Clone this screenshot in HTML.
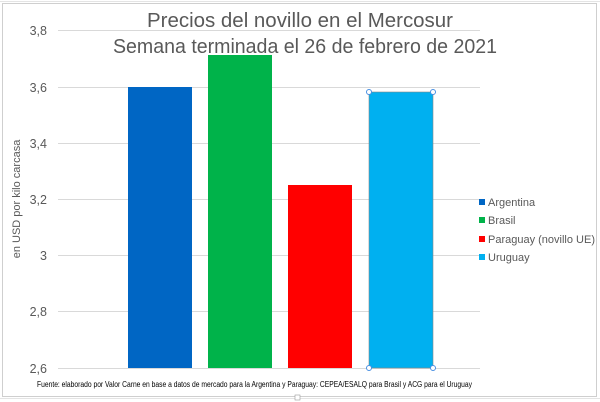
<!DOCTYPE html><html><head><style>body{margin:0;background:#fff}svg{display:block;font-family:"Liberation Sans",Arial,sans-serif}</style></head><body>
<svg width="600" height="402" viewBox="0 0 600 402">
<rect width="600" height="402" fill="#fff"/>
<g stroke="#e4e4e4" stroke-width="1">
<line x1="0" y1="1.5" x2="600" y2="1.5"/>
<line x1="0" y1="398.5" x2="600" y2="398.5"/>
</g>
<rect x="2.5" y="3.5" width="594" height="393" fill="#fff" stroke="#cfcfcf"/>
<g stroke="#d9d9d9" stroke-width="1">
<line x1="58" y1="30.5" x2="480" y2="30.5"/><line x1="58" y1="87.5" x2="480" y2="87.5"/>
<line x1="58" y1="143.5" x2="480" y2="143.5"/><line x1="58" y1="199.5" x2="480" y2="199.5"/>
<line x1="58" y1="255.5" x2="480" y2="255.5"/><line x1="58" y1="311.5" x2="480" y2="311.5"/>
<line x1="58" y1="368.5" x2="480" y2="368.5"/>
</g>
<g font-size="12.5" fill="#595959" text-anchor="end">
<text x="47" y="35">3,8</text><text x="47" y="92">3,6</text><text x="47" y="148">3,4</text>
<text x="47" y="204">3,2</text><text x="47" y="260">3</text><text x="47" y="316">2,8</text><text x="47" y="373">2,6</text>
</g>
<text transform="translate(20,199) rotate(-90)" font-size="11" fill="#595959" text-anchor="middle">en USD por kilo carcasa</text>
<rect x="128" y="87" width="64" height="281" fill="#0066c4"/>
<rect x="208" y="55" width="64" height="313" fill="#00b34a"/>
<rect x="288" y="185" width="64" height="183" fill="#ff0000"/>
<rect x="369" y="92" width="64" height="276" fill="#00b0f0" stroke="#888" stroke-width="0.6"/>
<g fill="#fff" stroke="#4a90e2" stroke-width="1"><circle cx="369" cy="92" r="2.5"/><circle cx="433" cy="92" r="2.5"/><circle cx="369" cy="368" r="2.5"/><circle cx="433" cy="368" r="2.5"/></g>
<g font-size="20" fill="#595959" text-anchor="middle">
<text x="300" y="27" textLength="306" lengthAdjust="spacingAndGlyphs">Precios del novillo en el Mercosur</text>
<text x="305" y="53" textLength="384" lengthAdjust="spacingAndGlyphs">Semana terminada el 26 de febrero de 2021</text>
</g>
<g font-size="11" fill="#595959">
<rect x="479" y="199" width="6" height="6" fill="#0066c4"/><text x="488" y="206">Argentina</text>
<rect x="479" y="217" width="6" height="6" fill="#00b34a"/><text x="488" y="224">Brasil</text>
<rect x="479" y="236" width="6" height="6" fill="#ff0000"/><text x="488" y="243">Paraguay (novillo UE)</text>
<rect x="479" y="254" width="6" height="6" fill="#00b0f0"/><text x="488" y="261">Uruguay</text>
</g>
<text x="37" y="387" font-size="8" fill="#000" textLength="435" lengthAdjust="spacingAndGlyphs">Fuente: elaborado por Valor Carne en base a datos de mercado para la Argentina y Paraguay: CEPEA/ESALQ para Brasil y ACG para el Uruguay</text>
<rect x="295" y="395" width="5" height="5" fill="#fff" stroke="#999" stroke-width="0.6"/>
</svg></body></html>
